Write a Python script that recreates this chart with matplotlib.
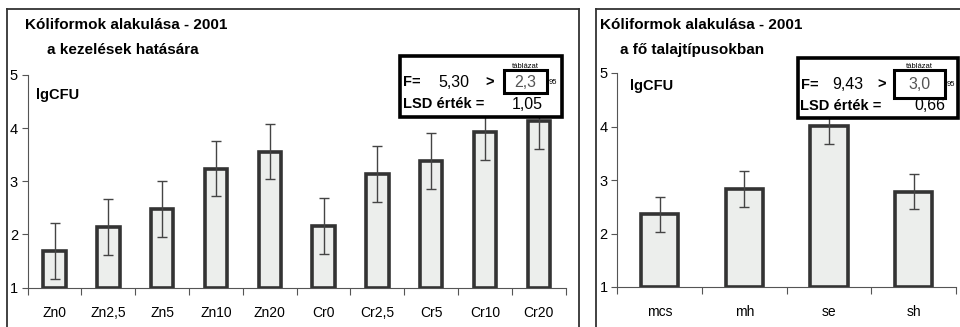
import matplotlib
matplotlib.use("Agg")
import matplotlib.pyplot as plt
from matplotlib.patches import Rectangle
from matplotlib.lines import Line2D

plt.rcParams['font.family'] = ['Liberation Sans', 'DejaVu Sans']

# ---- data ----
left_categories = ["Zn0", "Zn2,5", "Zn5", "Zn10", "Zn20", "Cr0", "Cr2,5", "Cr5", "Cr10", "Cr20"]
left_values = [1.69, 2.14, 2.48, 3.24, 3.56, 2.16, 3.14, 3.38, 3.92, 4.14]
left_lsd = 1.05
left_F = "5,30"
left_Ftab = "2,3"

right_categories = ["mcs", "mh", "se", "sh"]
right_values = [2.36, 2.83, 4.01, 2.78]
right_lsd = 0.66
right_F = "9,43"
right_Ftab = "3,0"

y_ticks = [1, 2, 3, 4, 5]

W, H = 960, 327
fig = plt.figure(figsize=(W / 100, H / 100), dpi=100)


def fx(px):
    return px / W


def fy(py):
    return 1 - py / H


def panel_border(x0, x1):
    kw = dict(color="#333333", lw=1.3, transform=fig.transFigure, clip_on=False)
    fig.add_artist(Line2D([fx(x0), fx(x0)], [fy(9), fy(340)], **kw))
    fig.add_artist(Line2D([fx(x0), fx(x1)], [fy(9), fy(9)], **kw))
    fig.add_artist(Line2D([fx(x1), fx(x1)], [fy(9), fy(340)], **kw))


def draw_chart(ax, cats, vals, lsd, bw):
    n = len(cats)
    xs = list(range(n))
    ax.bar(xs, [v - 1 for v in vals], bottom=1, width=bw, color="#eceeec",
           edgecolor="#333333", linewidth=2.6, zorder=2)
    ax.errorbar(xs, vals, yerr=lsd / 2, fmt="none", ecolor="#444444",
                elinewidth=1.0, capsize=3.5, capthick=1.0, zorder=3)
    ax.set_xlim(-0.5, n - 0.5)
    ax.set_ylim(1, 5)
    ax.set_yticks(y_ticks)
    ax.set_yticklabels([str(t) for t in y_ticks], fontsize=10.5)
    ax.set_xticks([i - 0.5 for i in range(n + 1)])
    ax.set_xticklabels([])
    ax.set_xticks(xs, minor=True)
    ax.set_xticklabels(cats, minor=True, fontsize=10)
    ax.tick_params(axis="x", which="major", length=5, direction="out", color="#555555", width=0.8)
    ax.tick_params(axis="x", which="minor", length=0, pad=13)
    ax.tick_params(axis="y", length=4, direction="out", color="#555555", width=0.8, pad=3)
    for s in ("top", "right"):
        ax.spines[s].set_visible(False)
    for s in ("left", "bottom"):
        ax.spines[s].set_color("#555555")
        ax.spines[s].set_linewidth(0.8)
    ax.set_facecolor("none")


def stats_box(ox0, oy0, ox1, oy1, ix0, iy0, ix1, iy1, Fval, Fx, gtx, Ftab, lsdtxt, lsdx):
    fig.add_artist(Rectangle((fx(ox0), fy(oy1)), fx(ox1 - ox0), (oy1 - oy0) / H,
                             transform=fig.transFigure, fill=True, facecolor="white",
                             edgecolor="black", lw=2.6, zorder=5))
    fig.add_artist(Rectangle((fx(ix0), fy(iy1)), fx(ix1 - ix0), (iy1 - iy0) / H,
                             transform=fig.transFigure, fill=False,
                             edgecolor="black", lw=2.2, zorder=6))
    ymid = (iy0 + iy1) / 2 + 1
    fig.text(fx(ox0 + 3), fy(ymid), "F=", fontsize=10.5, fontweight="bold",
             va="center", ha="left", zorder=7)
    fig.text(fx(Fx), fy(ymid), Fval, fontsize=11.5, va="center", ha="center", zorder=7)
    fig.text(fx(gtx), fy(ymid), ">", fontsize=10.5, fontweight="bold",
             va="center", ha="center", zorder=7)
    fig.text(fx((ix0 + ix1) / 2), fy(ymid), Ftab, fontsize=11.5, color="#555555",
             va="center", ha="center", zorder=7)
    fig.text(fx((ix0 + ix1) / 2), fy(iy0 - 4), "táblázat", fontsize=5.5,
             va="center", ha="center", zorder=7)
    fig.text(fx(ix1 + 2), fy(ymid), "95", fontsize=5.5, va="center", ha="left", zorder=7)
    fig.text(fx(ox0 + 3), fy(oy1 - 12), "LSD érték =", fontsize=10.5, fontweight="bold",
             va="center", ha="left", zorder=7)
    fig.text(fx(lsdx), fy(oy1 - 12), lsdtxt, fontsize=11.5, va="center", ha="center", zorder=7)


# ---- left panel ----
panel_border(7, 579)
ax1 = fig.add_axes([fx(27.7), fy(287.5), fx(565.7 - 27.7), (287.5 - 75) / H])
draw_chart(ax1, left_categories, left_values, left_lsd, 0.42)
fig.text(fx(25), fy(25), "Kóliformok alakulása - 2001", fontsize=11,
         fontweight="bold", va="center", ha="left")
fig.text(fx(47), fy(50), "a kezelések hatására", fontsize=11,
         fontweight="bold", va="center", ha="left")
fig.text(fx(36), fy(95), "lgCFU", fontsize=10.5, fontweight="bold", va="center", ha="left")
stats_box(400, 56, 561.5, 116.5, 504, 70, 546.5, 93, left_F, 454, 490,
          left_Ftab, "1,05", 527)

# ---- right panel ----
panel_border(596, 962)
ax2 = fig.add_axes([fx(617.3), fy(287), fx(956 - 617.3), (287 - 73) / H])
draw_chart(ax2, right_categories, right_values, right_lsd, 0.44)
fig.text(fx(600), fy(25), "Kóliformok alakulása - 2001", fontsize=11,
         fontweight="bold", va="center", ha="left")
fig.text(fx(620), fy(50), "a fő talajtípusokban", fontsize=11,
         fontweight="bold", va="center", ha="left")
fig.text(fx(630), fy(86), "lgCFU", fontsize=10.5, fontweight="bold", va="center", ha="left")
stats_box(797.5, 58.5, 958, 118, 893.5, 70, 945, 97.5, right_F, 848, 882,
          right_Ftab, "0,66", 930)

fig.savefig("out.png", dpi=100, facecolor="white")
